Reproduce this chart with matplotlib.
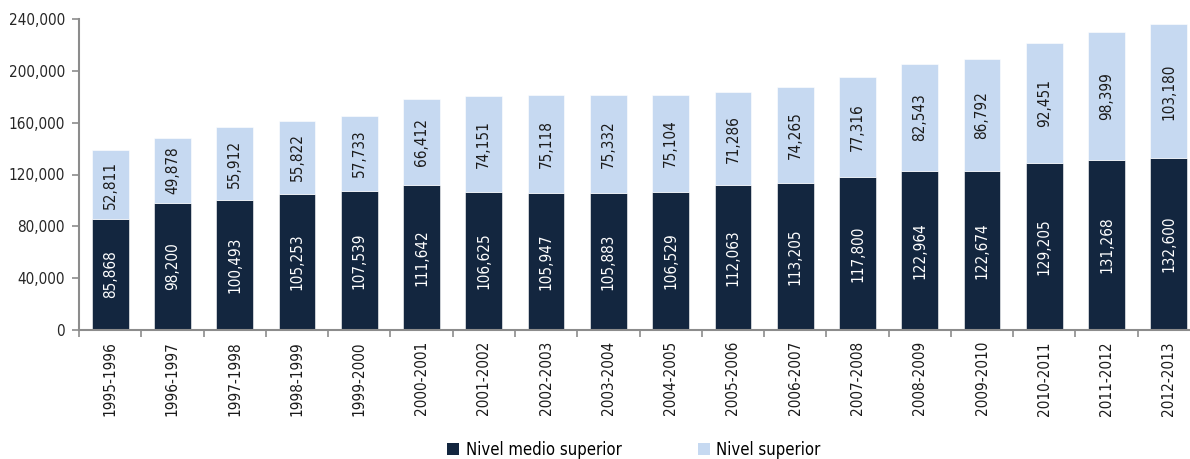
import matplotlib
matplotlib.use("Agg")
import matplotlib.pyplot as plt
import numpy as np
from matplotlib.patches import Patch

plt.rcParams['font.family'] = ['DejaVu Sans']
plt.rcParams['font.stretch'] = 'condensed'

categories = ["1995-1996", "1996-1997", "1997-1998", "1998-1999", "1999-2000",
              "2000-2001", "2001-2002", "2002-2003", "2003-2004", "2004-2005",
              "2005-2006", "2006-2007", "2007-2008", "2008-2009", "2009-2010",
              "2010-2011", "2011-2012", "2012-2013"]
medio_superior = [85868, 98200, 100493, 105253, 107539, 111642, 106625, 105947, 105883,
                  106529, 112063, 113205, 117800, 122964, 122674, 129205, 131268, 132600]
superior = [52811, 49878, 55912, 55822, 57733, 66412, 74151, 75118, 75332,
            75104, 71286, 74265, 77316, 82543, 86792, 92451, 98399, 103180]
yticks = [0, 40000, 80000, 120000, 160000, 200000, 240000]

dark = '#13263F'
light = '#C6D9F1'
grey = '#8C8C8C'

fig = plt.figure(figsize=(11.9, 4.59), dpi=100)
ax = fig.add_axes([79/1190, 1 - 330/459, (1200 - 79)/1190, (330 - 19)/459])

x = np.arange(len(categories))
w = 0.59
ax.bar(x, medio_superior, width=w, color=dark, edgecolor='white', linewidth=0.4)
ax.bar(x, superior, width=w, bottom=medio_superior, color=light, edgecolor='white', linewidth=0.4)

fs = 11
for xi, m, s in zip(x, medio_superior, superior):
    ax.text(xi, m / 2, f"{m:,}", rotation=90, ha='center', va='center', color='white', fontsize=fs)
    ax.text(xi, m + s / 2, f"{s:,}", rotation=90, ha='center', va='center', color='#1a1a1a', fontsize=fs)

ax.set_xlim(-0.5, len(categories) - 0.5)
ax.set_ylim(0, 240000)
ax.set_yticks(yticks)
ax.set_yticklabels([f"{v:,}" for v in yticks], fontsize=fs, color='#262626')

ax.set_xticks(np.arange(-0.5, len(categories), 1))
ax.set_xticklabels([])
ax.set_xticks(x, minor=True)
ax.set_xticklabels(categories, minor=True, rotation=90, fontsize=fs, color='#1a1a1a')
ax.tick_params(axis='x', which='major', length=5, width=1.2, color=grey, direction='out')
ax.tick_params(axis='x', which='minor', length=0, pad=8)
ax.tick_params(axis='y', length=5, width=1.2, color=grey, direction='out', pad=5)

for sp in ['top', 'right']:
    ax.spines[sp].set_visible(False)
for sp in ['left', 'bottom']:
    ax.spines[sp].set_color(grey)
    ax.spines[sp].set_linewidth(1.5)

handles = [Patch(facecolor=dark, edgecolor='none'), Patch(facecolor=light, edgecolor='none')]
fig.legend(handles, ["Nivel medio superior", "Nivel superior"], loc='center',
           bbox_to_anchor=(634/1190, 1 - 450/459), ncol=2, frameon=False, fontsize=12,
           handlelength=0.7, handleheight=0.7, handletextpad=0.4, columnspacing=4.6)

fig.savefig("out.png", dpi=100)
